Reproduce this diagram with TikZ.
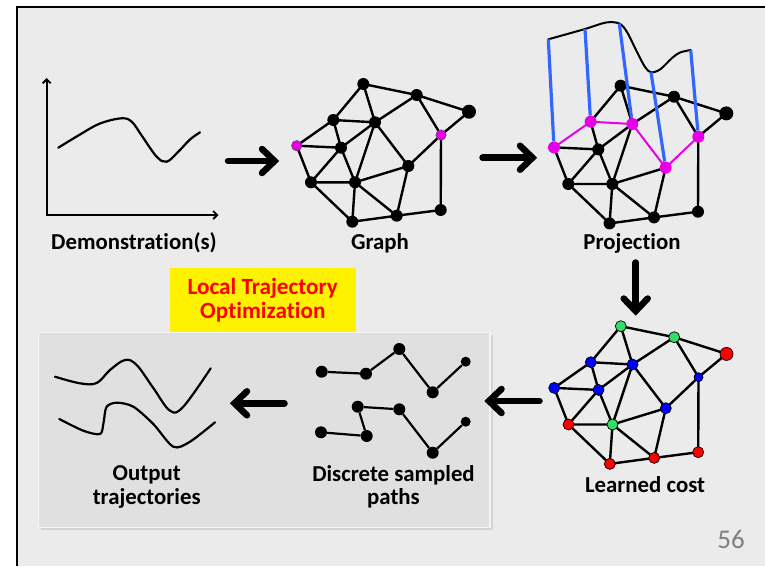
\documentclass[tikz,border=0pt]{standalone}
\usepackage{fontspec}
\setmainfont{Carlito}[Ligatures=CommonOff]
\usetikzlibrary{arrows.meta, calc}
\pgfdeclarelayer{back}
\pgfdeclarelayer{bg}
\pgfsetlayers{back,bg,main}

\definecolor{slidebg}{RGB}{235,235,235}
\definecolor{panelgray}{RGB}{224,224,224}
\definecolor{panelshadow}{RGB}{212,212,212}
\definecolor{mag}{RGB}{230,0,230}
\definecolor{projblue}{RGB}{51,102,255}
\definecolor{costgreen}{RGB}{51,221,102}
\definecolor{pagenum}{RGB}{128,128,128}

\tikzset{
  dot/.style={circle, fill=black, inner sep=0pt, minimum size=12pt},
  bigdot/.style={dot, minimum size=14pt},
  magdot/.style={circle, fill=mag, draw=black!70, line width=0.4pt, inner sep=0pt, minimum size=10.5pt},
  projdot/.style={circle, fill=mag, inner sep=0pt, minimum size=12pt},
  cdot/.style={circle, fill=#1, draw=black, line width=0.7pt, inner sep=0pt, minimum size=11pt},
  edge/.style={line width=2.4pt, black},
  curveline/.style={line width=2.2pt, black, line cap=round},
  shaft/.style={line width=6.5pt, line cap=round},
  chevron/.style={line width=6.5pt, line cap=round, line join=miter},
  lbl/.style={font=\bfseries\fontsize{22.8}{23.5}\selectfont, align=center, inner sep=0pt},
  sA/.style=dot, sB/.style=dot, sC/.style=bigdot, sD/.style=dot, sE/.style=dot,
  sF/.style=dot, sG/.style=dot, sH/.style=dot, sI/.style=dot, sJ/.style=dot,
  sK/.style=dot, sL/.style=dot, sM/.style=dot, sN/.style=dot,
  pathedge/.style=edge,
}

% the mesh used in the three graph panels
\newcommand\graphnodes{%
  \node[sA] (A) at (363.3,84) {};
  \node[sB] (B) at (416.7,95) {};
  \node[sC] (C) at (469,111.7) {};
  \node[sD] (D) at (441,135) {};
  \node[sE] (E) at (333.3,120) {};
  \node[sF] (F) at (375,122.3) {};
  \node[sG] (G) at (296.7,145.7) {};
  \node[sH] (H) at (341,147.7) {};
  \node[sI] (I) at (408.3,166) {};
  \node[sJ] (J) at (311,182.3) {};
  \node[sK] (K) at (355,182.3) {};
  \node[sL] (L) at (352.3,221.7) {};
  \node[sM] (M) at (396.7,215.7) {};
  \node[sN] (N) at (440.7,210) {};
}
\newcommand\graphedges{%
  \begin{pgfonlayer}{bg}
    \draw[edge] (A.center)--(B.center) (A.center)--(E.center) (A.center)--(F.center)
      (B.center)--(C.center) (B.center)--(F.center) (B.center)--(D.center)
      (C.center)--(D.center) (D.center)--(N.center) (E.center)--(H.center)
      (F.center)--(H.center) (F.center)--(K.center) (G.center)--(H.center)
      (G.center)--(J.center) (H.center)--(J.center) (H.center)--(K.center)
      (J.center)--(K.center) (J.center)--(L.center) (K.center)--(I.center)
      (K.center)--(L.center) (K.center)--(M.center) (I.center)--(M.center)
      (L.center)--(M.center) (M.center)--(N.center);
    \draw[pathedge] (G.center)--(E.center) (E.center)--(F.center)
      (F.center)--(I.center) (I.center)--(D.center);
  \end{pgfonlayer}
}

\begin{document}
\begin{tikzpicture}[x=1pt, y=-1pt]
\useasboundingbox (0,0) rectangle (765,566);

% slide background and frame
\begin{pgfonlayer}{back}
  \fill[white] (0,0) rectangle (765,566);
  \fill[slidebg] (17,7) rectangle (765,566);
  \draw[line width=2.5pt] (17,566) -- (17,7) -- (765,7);
\end{pgfonlayer}

% ---------- Demonstration(s) ----------
\coordinate (origin) at (46.7,215);
\coordinate (ytop) at (46.7,78);
\coordinate (xright) at (218.5,215);
\draw[line width=1.8pt, {Straight Barb[length=4pt,width=8pt]}-{Straight Barb[length=4pt,width=8pt]}]
  (ytop) -- (origin) -- (xright);
\draw[curveline] plot[smooth, tension=0.6] coordinates {
  (58.3,147.7) (80,134.5) (100,123.5) (121.7,118.3) (132,122) (142,136)
  (156.7,156.7) (166.7,161.7) (178,152) (190,139.5) (200,132.3)};
\node[lbl] (demo) at (134,243) {Demonstration(s)};

% ---------- Graph ----------
\begin{scope}[name prefix=g-, sD/.style=magdot, sG/.style=magdot]
  \graphnodes
  \graphedges
\end{scope}
\node[lbl] (graphlbl) at (380,243) {Graph};

% ---------- Projection ----------
\begin{scope}[shift={(257.3,1.7)}, name prefix=p-,
    sD/.style=projdot, sE/.style=projdot, sF/.style=projdot,
    sG/.style=projdot, sI/.style=projdot,
    pathedge/.style={line width=2pt, mag}]
  \graphnodes
  \graphedges
\end{scope}
\coordinate (qG) at (548.3,39.3);
\coordinate (qE) at (585,29);
\coordinate (qF) at (619.3,23.5);
\coordinate (qI) at (651,72.3);
\coordinate (qD) at (690.7,50);
\draw[line width=2pt, black, line cap=round] plot[smooth, tension=0.5] coordinates {
  (qG) (qE) (606,22.5) (qF) (627,32) (637,52) (645,67) (qI) (660,69.5)
  (672,58) (680,52.5) (qD)};
\draw[line width=3.2pt, projblue] (qG) -- (p-G) (qE) -- (p-E) (qF) -- (p-F)
  (qI) -- (p-I) (qD) -- (p-D);
\node[lbl] (projlbl) at (632,243) {Projection};

% ---------- Learned cost ----------
\begin{scope}[shift={(257.5,242.2)}, name prefix=c-,
    sA/.style={cdot=costgreen}, sB/.style={cdot=costgreen},
    sC/.style={cdot=red, minimum size=13pt}, sD/.style={cdot=blue, minimum size=9pt},
    sE/.style={cdot=blue}, sF/.style={cdot=blue}, sG/.style={cdot=blue},
    sH/.style={cdot=blue}, sI/.style={cdot=blue}, sJ/.style={cdot=red},
    sK/.style={cdot=costgreen}, sL/.style={cdot=red}, sM/.style={cdot=red},
    sN/.style={cdot=red}]
  \graphnodes
  \graphedges
\end{scope}
\node[lbl] (costlbl) at (645,485) {Learned cost};

% ---------- local trajectory optimization panel ----------
\fill[panelshadow] (40.5,335) rectangle (492.5,530);
\filldraw[fill=panelgray, draw=white!96!black, line width=1.3pt]
  (38.3,332.7) rectangle (490,527.7);
\node[lbl, font=\bfseries\fontsize{23.2}{23.5}\selectfont, fill=yellow, text=red,
      minimum width=185.7pt, minimum height=63.4pt]
  (lto) at (262.8,300) {Local Trajectory\\Optimization};

% discrete sampled paths
\node[dot] (a1) at (321.7,371.7) {};
\node[dot] (a2) at (366,373.7) {};
\node[dot] (a3) at (399.3,349) {};
\node[dot] (a4) at (432.7,392.3) {};
\node[dot, minimum size=10pt] (a5) at (465.7,361.7) {};
\draw[edge, line width=2.2pt] (a1) -- (a2) -- (a3) -- (a4) -- (a5);
\node[dot] (b1) at (321,432.3) {};
\node[dot] (b2) at (366.7,436) {};
\node[dot] (b3) at (357.7,406.7) {};
\node[dot] (b4) at (399.3,409.3) {};
\node[dot] (b5) at (432.7,452.7) {};
\node[dot, minimum size=10pt] (b6) at (465.7,421.7) {};
\draw[edge, line width=2.2pt] (b1) -- (b2) -- (b3) -- (b4) -- (b5) -- (b6);
\node[lbl] (dsplbl) at (393.5,487) {Discrete sampled\\paths};

% output trajectories
\draw[curveline] plot[smooth, tension=0.6] coordinates {
  (55,376.7) (80,383.3) (96.7,383) (110,370) (125,360) (136.7,365)
  (153.3,388) (170,410.7) (183.3,406.7) (210.7,368.3)};
\draw[curveline] plot[smooth, tension=0.5] coordinates {
  (59.3,419) (83.3,430.7) (100,434) (103.5,423) (106.5,407) (116.7,402.7)
  (133.3,406.7) (153.3,424) (173.3,446.7) (190,441.7) (215,422.3)};
\node[lbl] (outlbl) at (146.7,487) {Output\\trajectories};

% ---------- flow arrows: shaft plus chevron head ----------
\coordinate (r1s) at (228,161);     \coordinate (r1e) at (274.5,161);
\coordinate (r2s) at (482.5,157.7); \coordinate (r2e) at (532.5,157.7);
\coordinate (dns) at (635.7,262.5); \coordinate (dne) at (635.7,311);
\coordinate (l1s) at (539.5,401);   \coordinate (l1e) at (489,401);
\coordinate (l2s) at (284.5,403.3); \coordinate (l2e) at (234.5,403.3);
\draw[shaft] (r1s) -- ($(r1e)+(-3,0)$);
\draw[chevron] ($(r1e)+(-12.5,-12)$) -- (r1e) -- ($(r1e)+(-12.5,12)$);
\draw[shaft] (r2s) -- ($(r2e)+(-3,0)$);
\draw[chevron] ($(r2e)+(-12.5,-12)$) -- (r2e) -- ($(r2e)+(-12.5,12)$);
\draw[shaft] (dns) -- ($(dne)+(0,-3)$);
\draw[chevron] ($(dne)+(-12,-12.5)$) -- (dne) -- ($(dne)+(12,-12.5)$);
\draw[shaft] (l1s) -- ($(l1e)+(3,0)$);
\draw[chevron] ($(l1e)+(12.5,-12)$) -- (l1e) -- ($(l1e)+(12.5,12)$);
\draw[shaft] (l2s) -- ($(l2e)+(3,0)$);
\draw[chevron] ($(l2e)+(12.5,-12)$) -- (l2e) -- ($(l2e)+(12.5,12)$);

% page number
\node[text=pagenum, font=\fontsize{27}{30}\selectfont, inner sep=0pt] (pnum) at (731,539) {56};
\end{tikzpicture}
\end{document}
